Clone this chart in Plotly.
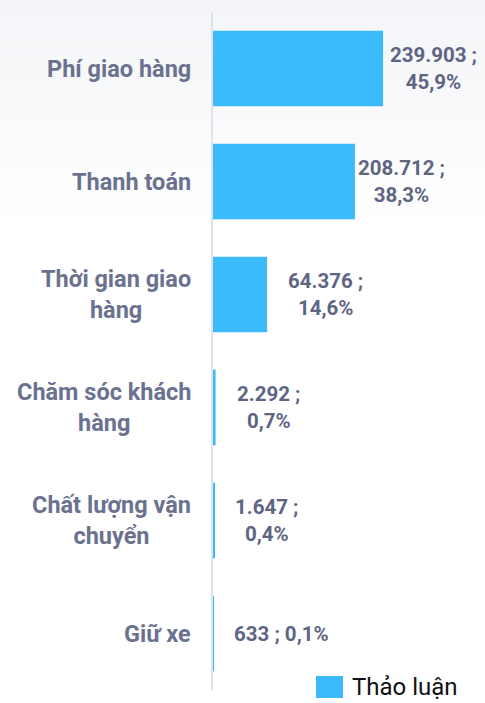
import plotly.graph_objects as go

categories = ["Phí giao hàng", "Thanh toán", "Thời gian giao hàng",
              "Chăm sóc khách hàng", "Chất lượng vận chuyển", "Giữ xe"]
tick_labels = ["Phí giao hàng", "Thanh toán", "Thời gian giao<br>hàng",
               "Chăm sóc khách<br>hàng", "Chất lượng vận<br>chuyển", "Giữ xe"]
counts = [239903, 208712, 64376, 2292, 1647, 633]
percents = [45.9, 38.3, 14.6, 0.7, 0.4, 0.1]
series_name = "Thảo luận"

# style
BAR_COLOR = "#3BBBFC"
CAT_COLOR = "#6B7290"
VAL_COLOR = "#5E6583"
label_sep = ["<br>", "<br>", "<br>", "<br>", "<br>", " "]
label_xshift = [5, 1, 19, 19, 19, 19]

W, H = 485, 703
ML, MR, MT, MB = 213, 0, 12, 13
PW, PH = W - ML - MR, H - MT - MB


def fmt_count(v):
    return f"{v:,}".replace(",", ".")


def fmt_pct(p):
    return f"{p:.1f}".replace(".", ",") + "%"


labels = [f"{fmt_count(c)} ;{s}{fmt_pct(p)}" for c, p, s in zip(counts, percents, label_sep)]

fig = go.Figure()
fig.add_trace(go.Bar(
    y=categories, x=percents, orientation="h",
    marker=dict(color=BAR_COLOR, line=dict(width=0)),
    width=0.67, name=series_name, showlegend=False,
    hoverinfo="skip",
))

annotations = []
for cat, tl in zip(categories, tick_labels):
    annotations.append(dict(
        x=0, xref="paper", y=cat, yref="y", text=tl, showarrow=False,
        xanchor="right", align="center", xshift=-20,
        font=dict(family="Roboto", size=23.5, color=CAT_COLOR, weight="bold"),
    ))
for cat, p, lab, xs in zip(categories, percents, labels, label_xshift):
    annotations.append(dict(
        x=p, xref="x", y=cat, yref="y", text=lab, showarrow=False,
        xanchor="left", align="center", xshift=xs,
        font=dict(family="Roboto", size=20.5, color=VAL_COLOR, weight="bold"),
    ))


def px_to_paper_x(px):
    return (px - ML) / PW


def px_to_paper_y(py):
    return (H - MB - py) / PH


# legend (manual)
shapes = []
shapes.append(dict(type="rect", xref="paper", yref="paper",
                   x0=px_to_paper_x(316), x1=px_to_paper_x(343),
                   y0=px_to_paper_y(698), y1=px_to_paper_y(676),
                   fillcolor=BAR_COLOR, line=dict(width=0), layer="above"))
annotations.append(dict(
    x=px_to_paper_x(350), xref="paper", y=px_to_paper_y(687), yref="paper",
    text=series_name, showarrow=False, xanchor="left", yanchor="middle",
    font=dict(family="Roboto", size=24, color="#111111"),
))

# subtle top background gradient
n_bands = 40
grad_h = 220
top = (244, 245, 248)
for i in range(n_bands):
    t = i / n_bands
    c = tuple(round(top[k] + (255 - top[k]) * t) for k in range(3))
    y0p = i * grad_h / n_bands
    y1p = (i + 1) * grad_h / n_bands
    shapes.append(dict(type="rect", xref="paper", yref="paper",
                       x0=px_to_paper_x(0), x1=px_to_paper_x(W),
                       y0=px_to_paper_y(y1p + 0.5), y1=px_to_paper_y(y0p),
                       fillcolor=f"rgb{c}", line=dict(width=0), layer="below"))

fig.update_layout(
    width=W, height=H,
    margin=dict(l=ML, r=MR, t=MT, b=MB),
    paper_bgcolor="white", plot_bgcolor="rgba(0,0,0,0)",
    bargap=0.33,
    xaxis=dict(range=[0, 73.4], showgrid=False, zeroline=False,
               showticklabels=False, showline=False, fixedrange=True),
    yaxis=dict(autorange="reversed", showgrid=False, zeroline=False,
               showticklabels=False, showline=True, linecolor="#E1E3EA",
               linewidth=2, ticks="", fixedrange=True),
    annotations=annotations, shapes=shapes,
    showlegend=False,
)

fig.write_html("out.html", config=dict(displayModeBar=False),
               post_script="document.body.style.margin='0';document.body.style.overflow='hidden';")
